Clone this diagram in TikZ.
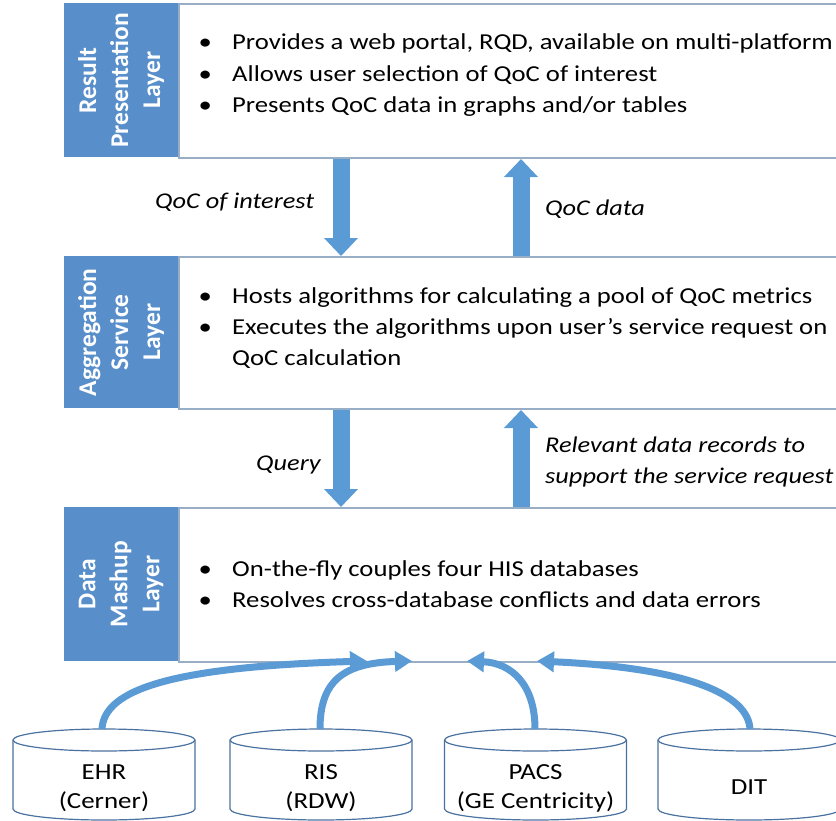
\documentclass[tikz,border=0pt]{standalone}
\usepackage{fontspec}
\setmainfont{Carlito}[FakeStretch=1.17]
\newfontfamily\titlefont{Carlito}
\usetikzlibrary{arrows.meta}

\definecolor{layerblue}{HTML}{588FCB}
\definecolor{flowblue}{HTML}{5B9BD5}
\definecolor{framegray}{HTML}{97AEC6}
\definecolor{dbline}{HTML}{4A72A0}

% bullet hung at the item start, text indented behind it
\newcommand\itm{\makebox[0pt][c]{\textbullet}\hspace{27pt}}

\tikzset{
  frame/.style={draw=framegray, line width=2pt, fill=white, inner sep=0pt,
                minimum width=662pt, anchor=north west},
  labelbox/.style={fill=layerblue, draw=none, inner sep=0pt,
                   minimum width=114pt, anchor=north west},
  labeltext/.style={text=white, font=\titlefont\fontsize{25.5}{32}\selectfont\bfseries,
                    align=center, inner sep=0pt, rotate=90},
  itemtext/.style={anchor=base west, inner sep=0pt,
                   font=\fontsize{22.8}{31}\selectfont},
  flowtext/.style={anchor=base west, inner sep=0pt,
                   font=\fontsize{22.5}{31}\selectfont\itshape},
  dbtext/.style={align=center, inner sep=0pt,
                 font=\fontsize{23}{29}\selectfont},
  blockarrow/.style={draw=flowblue, line width=17pt,
                     -{Triangle[width=33pt,length=18pt]}},
  feed/.style={draw=flowblue, line width=7pt,
               -{Triangle[width=20pt,length=17pt]}},
  db/.pic={
    \draw[dbline, line width=1.2pt, fill=white]
      (-91,0) -- (-91,69)
      arc[start angle=180, end angle=360, x radius=91pt, y radius=11pt]
      -- (91,0)
      arc[start angle=0, end angle=180, x radius=91pt, y radius=11pt] -- cycle;
    \draw[dbline, line width=1.2pt]
      (-91,0) arc[start angle=180, end angle=360, x radius=91pt, y radius=11pt];
  }
}

\begin{document}
\begin{tikzpicture}[x=1pt, y=-1pt]
\useasboundingbox (0,0) rectangle (836,820);

% ---------- the three layers ----------
\node[frame, minimum height=154pt] (resframe) at (178,3) {};
\node[frame, minimum height=152pt] (aggframe) at (178,256) {};
\node[frame, minimum height=154pt] (mashframe) at (178,507) {};

\node[labelbox, minimum height=154pt] (res) at (64,3) {};
\node[labelbox, minimum height=152pt] (agg) at (64,256) {};
\node[labelbox, minimum height=154pt] (mash) at (64,507) {};

\node[labeltext] (restitle) at (res.center) {Result\\Presentation\\Layer};
\node[labeltext] (aggtitle) at (agg.center) {Aggregation\\Service\\Layer};
\node[labeltext] (mashtitle) at (mash.center) {Data\\Mashup\\Layer};

% ---------- layer contents ----------
\node[itemtext] (r1) at (205,49) {\itm Provides a web portal, RQD, available on multi-platform};
\node[itemtext] (r2) at (205,81) {\itm Allows user selection of QoC of interest};
\node[itemtext] (r3) at (205,112) {\itm Presents QoC data in graphs and/or tables};

\node[itemtext] (a1) at (205,303) {\itm Hosts algorithms for calculating a pool of QoC metrics};
\node[itemtext] (a2) at (205,334) {\itm Executes the algorithms upon user’s service request on};
\node[itemtext] (a3) at (205,365) {\hspace*{27pt}QoC calculation};

\node[itemtext] (m1) at (205,576) {\itm On-the-fly couples four HIS databases};
\node[itemtext] (m2) at (205,607) {\itm Resolves cross-database conflicts and data errors};

% ---------- flows between layers ----------
\coordinate (downx) at (341,0);
\coordinate (upx) at (521,0);

\draw[blockarrow] (resframe.south -| downx) -- (aggframe.north -| downx);
\draw[blockarrow] (aggframe.north -| upx) -- (resframe.south -| upx);
\draw[blockarrow] (aggframe.south -| downx) -- (mashframe.north -| downx);
\draw[blockarrow] (mashframe.north -| upx) -- (aggframe.south -| upx);

\node[flowtext] (lint) at (155,208) {QoC of interest};
\node[flowtext] (ldata) at (545,215) {QoC data};
\node[flowtext] (lquery) at (256,470) {Query};
\node[flowtext] (lrel1) at (545,452) {Relevant data records to};
\node[flowtext] (lrel2) at (545,483) {support the service request};

% ---------- source databases ----------
\pic at (104,740) {db};
\pic at (321,740) {db};
\pic at (535.5,740) {db};
\pic at (749,740) {db};

\node[dbtext] (ehr) at (104,788) {EHR\\(Cerner)};
\node[dbtext] (ris) at (321,788) {RIS\\(RDW)};
\node[dbtext] (pacs) at (535.5,788) {PACS\\(GE Centricity)};
\node[dbtext] (dit) at (749,787) {DIT};

\coordinate (ehrtop) at (102,729);
\coordinate (ristop) at (320,729);
\coordinate (pacstop) at (535,729);
\coordinate (dittop) at (750,729);

\coordinate (inehr) at (367,661);
\coordinate (inris) at (412,661);
\coordinate (inpacs) at (467,661);
\coordinate (indit) at (537,661);

\draw[feed] (ehrtop) .. controls (104,690) and (170,667) .. (inehr);
\draw[feed] (ristop) .. controls (320,682) and (342,663) .. (inris);
\draw[feed] (pacstop) .. controls (535,685) and (512,663) .. (inpacs);
\draw[feed] (dittop) .. controls (748,695) and (690,668) .. (indit);
\end{tikzpicture}
\end{document}
